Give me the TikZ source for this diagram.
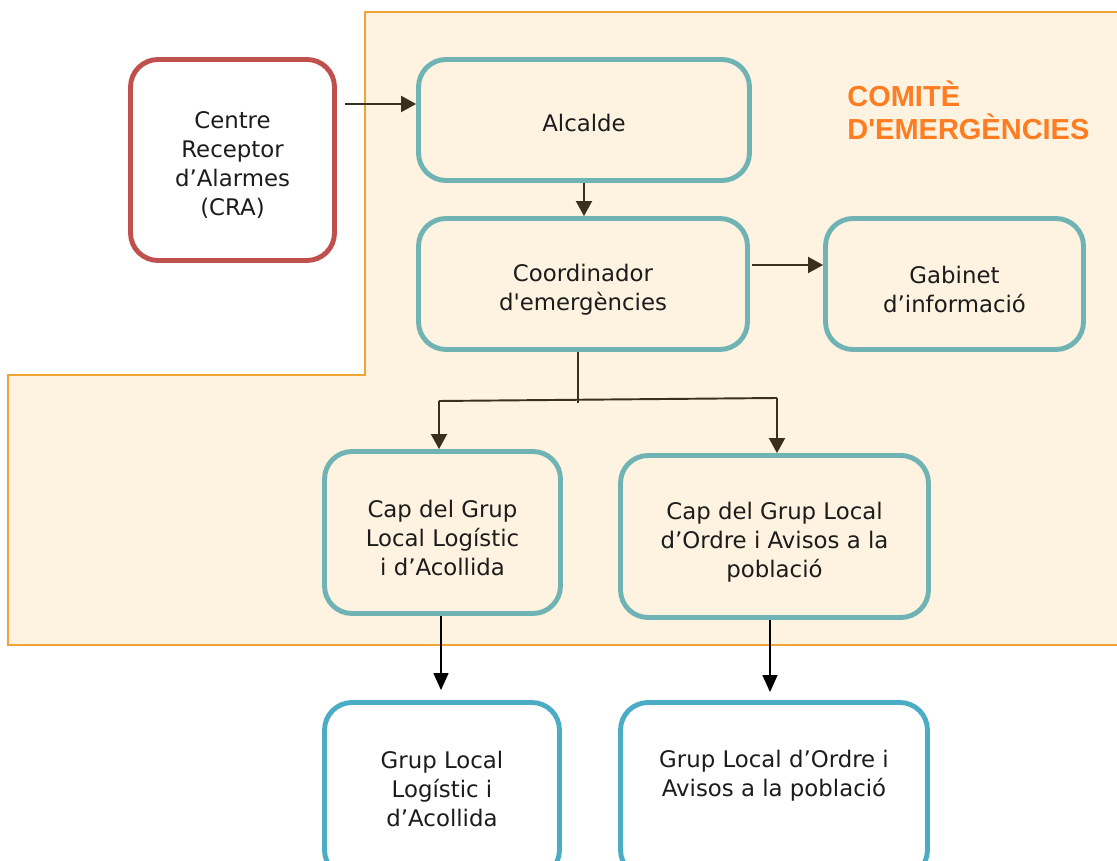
\documentclass[tikz,border=0pt]{standalone}
\usepackage{fontspec}
\setmainfont{DejaVu Sans}
\newfontfamily\titlefont{Liberation Sans}
\usepackage{xcolor}
\usetikzlibrary{arrows.meta}

\definecolor{zoneFill}{HTML}{FEF3E0}
\definecolor{zoneLine}{HTML}{F2A336}
\definecolor{titleOrange}{HTML}{FF7D22}
\definecolor{craRed}{HTML}{C0504D}
\definecolor{comTeal}{HTML}{70B3B4}
\definecolor{grupBlue}{HTML}{4BACC6}
\definecolor{linkBrown}{HTML}{3A2F1C}
\definecolor{txtGrey}{HTML}{1C1C1C}

\begin{document}
\begin{tikzpicture}%
        [x=0.02cm, y=-0.02cm,
        box/.style={rectangle, rounded corners=0.55cm, line width=2.8pt},
        boxtext/.style={align=center, text=txtGrey, inner sep=0pt, yshift=-0.11cm,
            font=\fontsize{13}{16.5}\selectfont},
        grupboxtext/.style={boxtext, yshift=0.14cm},
        crabox/.style={box, draw=craRed, fill=white},
        combox/.style={box, draw=comTeal, fill=zoneFill},
        grupbox/.style={box, draw=grupBlue, fill=white},
        link/.style={color=linkBrown, line width=1.1pt},
        linkarrow/.style={link, -{Triangle[width=0.32cm,length=0.3cm]}},
        downarrow/.style={color=black, line width=0.8pt, -{Triangle[width=0.3cm,length=0.34cm]}}]
    \useasboundingbox (0,0) rectangle (1117,861);
    \clip (0,0) rectangle (1117,861);
    %% Comite zone
    \draw[fill=zoneFill, draw=zoneLine, line width=0.9pt]
        (365,12) -- (1125,12) -- (1125,645) -- (8,645) -- (8,375) -- (365,375) -- cycle;
    \node[anchor=north west, align=left, inner sep=0pt, text=titleOrange,
        font=\titlefont\bfseries\fontsize{16.5}{19}\selectfont] (title) at (847,80)
        {COMITÈ\\D\textquotesingle EMERGÈNCIES};
    %%
    %% Boxes
    %%
    \node[crabox, minimum width=4.08cm, minimum height=4.02cm,
        label={[boxtext]center:{Centre\\Receptor\\d’Alarmes\\(CRA)}}] (cra) at (232.5,160) {};
    \node[combox, minimum width=6.62cm, minimum height=2.42cm,
        label={[boxtext, yshift=0.06cm]center:Alcalde}] (alcalde) at (584,120) {};
    \node[combox, minimum width=6.58cm, minimum height=2.62cm,
        label={[boxtext]center:{Coordinador\\d\textquotesingle emergències}}] (coord) at (583,284) {};
    \node[combox, minimum width=5.16cm, minimum height=2.62cm,
        label={[boxtext]center:{Gabinet\\d’informació}}] (gabinet) at (954.5,284) {};
    \node[combox, minimum width=4.72cm, minimum height=3.24cm,
        label={[boxtext]center:{Cap del Grup\\Local Logístic\\i d’Acollida}}] (caplog) at (442.5,532.5) {};
    \node[combox, minimum width=6.16cm, minimum height=3.24cm,
        label={[boxtext]center:{Cap del Grup Local\\d’Ordre i Avisos a la\\població}}] (capordre) at (774.5,536.5) {};
    \node[grupbox, minimum width=4.7cm, minimum height=3.5cm,
        label={[grupboxtext]center:{Grup Local\\Logístic i\\d’Acollida}}] (gruplog) at (442,790) {};
    \node[grupbox, minimum width=6.14cm, minimum height=3.5cm,
        label={[grupboxtext, yshift=0.25cm]center:{Grup Local d’Ordre i\\Avisos a la població}}] (grupordre) at (774,790) {};
    %%
    %% Connectors
    %%
    \coordinate (craout) at (345,104);
    \coordinate (gabin) at (752,265);
    \coordinate (fork) at (578,401);
    \coordinate (forkL) at (439,401);
    \coordinate (forkR) at (777,398);
    \draw[linkarrow] (craout) -- (craout -| alcalde.west);
    \draw[linkarrow] (alcalde.south) -- (alcalde.south |- coord.north);
    \draw[linkarrow] (gabin) -- (gabin -| gabinet.west);
    \draw[link] (coord.south -| fork) -- ([yshift=-0.04cm]fork);
    \draw[link] (forkL) -- (forkR);
    \draw[linkarrow] (forkL) -- (forkL |- caplog.north);
    \draw[linkarrow] (forkR) -- (forkR |- capordre.north);
    \draw[downarrow, shorten >=0.2cm] (caplog.south -| 441,0) -- (gruplog.north -| 441,0);
    \draw[downarrow, shorten >=0.16cm] (capordre.south -| 770,0) -- (grupordre.north -| 770,0);
\end{tikzpicture}
\end{document}
